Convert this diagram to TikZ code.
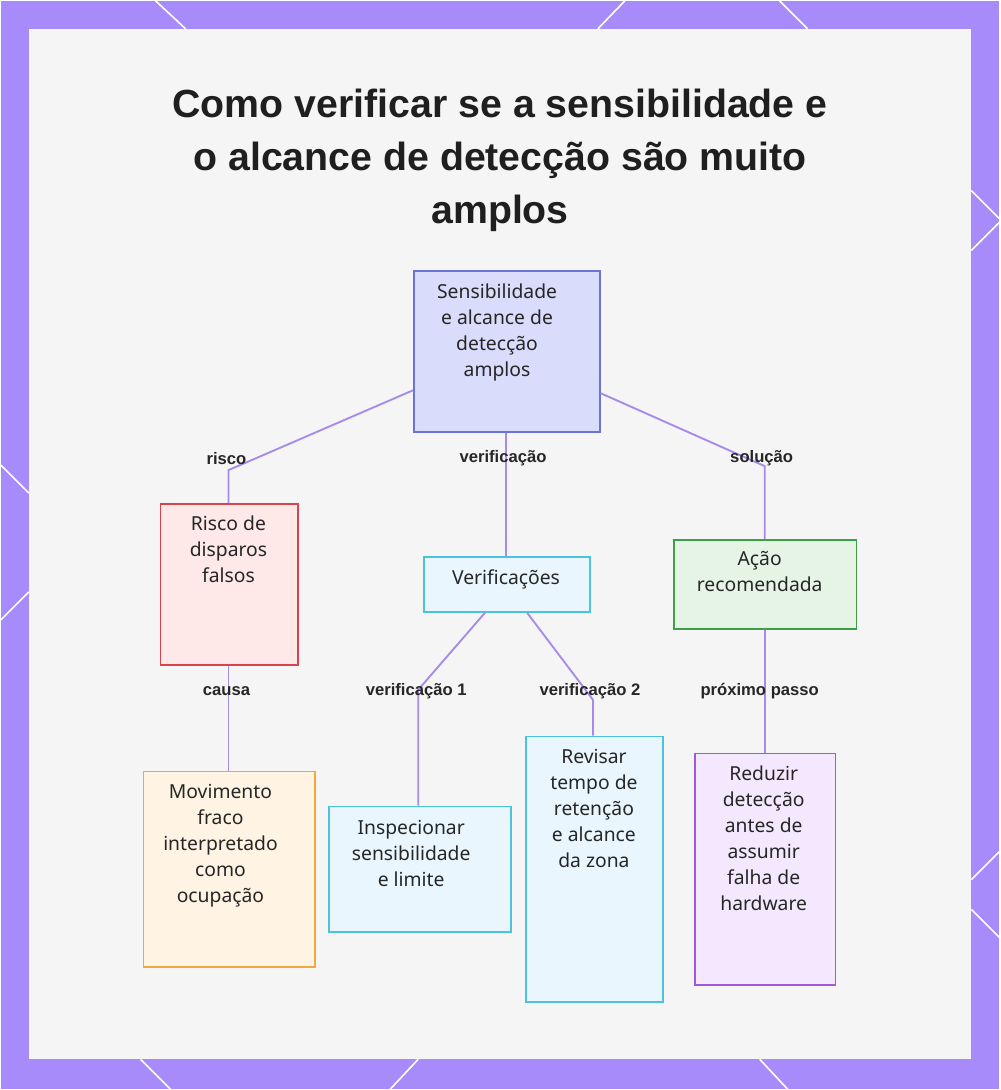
\documentclass[tikz,border=0pt]{standalone}
\usepackage{fontspec}
\setmainfont{Noto Sans}
\newfontfamily\bfam{Liberation Sans}[BoldFont={* Bold}]
\begin{document}
\begin{tikzpicture}[x=0.75pt,y=-0.75pt,
 box/.style={draw,line width=1.3pt,anchor=north west,inner sep=0pt},
 txt/.style={anchor=north,align=center,font=\fontsize{14.5}{19.5}\selectfont,text=black!85,inner sep=0pt},
 lab/.style={font=\bfam\bfseries\fontsize{12.5}{14}\selectfont,text=black!85},
 edge/.style={line width=1.4pt,color={rgb,255:red,167;green,139;blue,234}},
 deco/.style={white,line width=1.2pt}]
\definecolor{frame}{RGB}{167,139,250}
\fill[frame] (0,0) rectangle (1000,1090);
\fill[black!4] (28,28) rectangle (972,1060);
\foreach \a/\b/\c/\d in {155/0/185/28, 598/28/625/0, 780/0/808/28, 972/190/1000/218, 972/250/1000/222, 0/465/28/493, 0/620/28/592, 972/880/1000/852, 972/910/1000/938, 140/1060/170/1090, 390/1090/418/1060, 760/1060/788/1090}
  \draw[deco] (\a,\b)--(\c,\d);
\node[font=\bfam\bfseries\fontsize{29.5}{39.5}\selectfont,text=black!88,align=center,anchor=north] (title) at (500,84) {Como verificar se a sensibilidade e\\o alcance de detecção são muito\\amplos};
% boxes
\node[box,draw={rgb,255:red,107;green,115;blue,214},fill={rgb,255:red,217;green,220;blue,251},minimum width=186*0.75pt,minimum height=161*0.75pt] (top) at (413,270) {};
\node[txt] at (497,283) {Sensibilidade\\e alcance de\\detecção\\amplos};
\node[box,draw={rgb,255:red,217;green,67;blue,75},fill={rgb,255:red,255;green,232;blue,232},minimum width=138*0.75pt,minimum height=161*0.75pt] (risco) at (159,503) {};
\node[txt] at (228,516) {Risco de\\disparos\\falsos};
\node[box,draw={rgb,255:red,76;green,195;blue,221},fill={rgb,255:red,234;green,246;blue,253},minimum width=166*0.75pt,minimum height=55*0.75pt] (ver) at (423,556) {};
\node[txt] at (506,569) {Verificações};
\node[box,draw={rgb,255:red,61;green,160;blue,73},fill={rgb,255:red,230;green,244;blue,230},minimum width=183*0.75pt,minimum height=89*0.75pt] (acao) at (673,539) {};
\node[txt] at (760,551) {Ação\\recomendada};
\node[box,draw={rgb,255:red,242;green,169;blue,59},fill={rgb,255:red,255;green,244;blue,227},minimum width=172*0.75pt,minimum height=196*0.75pt] (mov) at (142,771) {};
\node[txt] at (220,784) {Movimento\\fraco\\interpretado\\como\\ocupação};
\node[box,draw={rgb,255:red,76;green,195;blue,221},fill={rgb,255:red,234;green,246;blue,253},minimum width=182*0.75pt,minimum height=126*0.75pt] (insp) at (328,806) {};
\node[txt] at (411,820) {Inspecionar\\sensibilidade\\e limite};
\node[box,draw={rgb,255:red,76;green,195;blue,221},fill={rgb,255:red,234;green,246;blue,253},minimum width=137*0.75pt,minimum height=266*0.75pt] (rev) at (525,736) {};
\node[txt] at (594,749) {Revisar\\tempo de\\retenção\\e alcance\\da zona};
\node[box,draw={rgb,255:red,162;green,89;blue,217},fill={rgb,255:red,243;green,232;blue,253},minimum width=141*0.75pt,minimum height=232*0.75pt] (red) at (694,753) {};
\node[txt] at (764,766) {Reduzir\\detecção\\antes de\\assumir\\falha de\\hardware};
% edges
\coordinate (e1) at (228,470); \coordinate (e2) at (765,466);
\coordinate (e3) at (418,690); \coordinate (e4) at (593,700);
\draw[edge] (top.west |- 0,390) -- (e1) -- (risco.north -| e1);
\draw[edge] (top.south -| 506,0) -- (ver.north -| 506,0);
\draw[edge] (top.east |- 0,393) -- (e2) -- (acao.north -| e2);
\draw[edge] (risco.south -| 228,0) -- (mov.north -| 228,0);
\draw[edge] (ver.south -| 485,0) -- (e3) -- (insp.north -| e3);
\draw[edge] (ver.south -| 527,0) -- (e4) -- (rev.north -| e4);
\draw[edge] (acao.south -| 765,0) -- (red.north -| 765,0);
\node[lab] (l1) at (226,458) {risco};
\node[lab] (l2) at (503,458) {verificação};
\node[lab] (l3) at (762,458) {solução};
\node[lab] (l4) at (226,691) {causa};
\node[lab] (l5) at (416,691) {verificação 1};
\node[lab] (l6) at (590,691) {verificação 2};
\node[lab] (l7) at (760,691) {próximo passo};
\end{tikzpicture}
\end{document}
